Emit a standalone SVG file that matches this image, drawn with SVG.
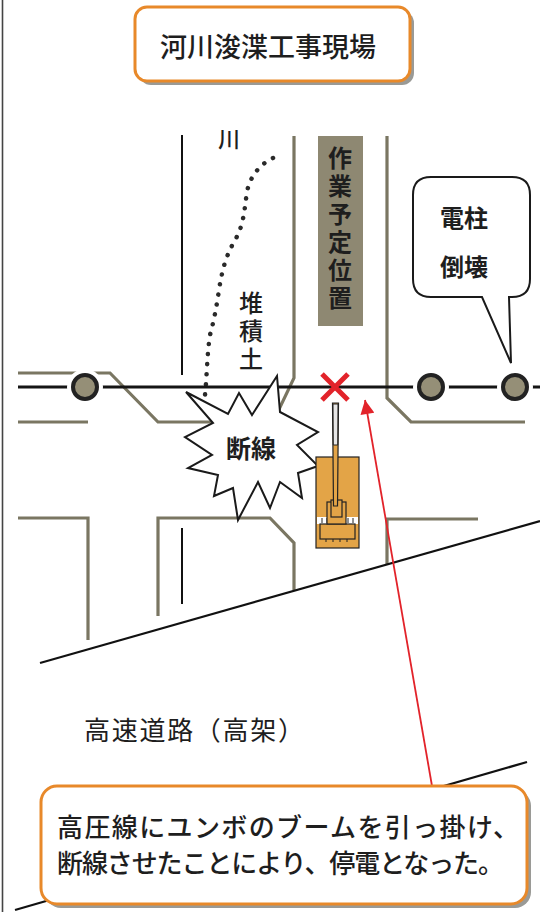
<svg xmlns="http://www.w3.org/2000/svg" width="540" height="912" viewBox="0 0 540 912">
  <style>
    .jp { font-family: "Noto Sans CJK JP", "Noto Sans", sans-serif; fill: #1e1e1e; }
    .vert { writing-mode: vertical-rl; text-orientation: upright; letter-spacing: 4px; }
    .road { fill: none; stroke: #7a7662; stroke-width: 3.2; stroke-linejoin: miter; }
    .bank { fill: none; stroke: #111; stroke-width: 2; }
    .hwy { fill: none; stroke: #111; stroke-width: 2.2; }
    .pole-halo { fill: #fff; }
    .pole { fill: #958f77; stroke: #222; stroke-width: 4; }
    .panel { fill: #fff; stroke: #e8892a; stroke-width: 3; }
    .panel-shadow { fill: #9a9a96; }
    .orange { fill: #e3a447; stroke: #222; stroke-width: 1.2; }
  </style>
  <defs>
    <marker id="arrowHead" viewBox="0 0 10 10" refX="10" refY="5" markerWidth="17" markerHeight="14" markerUnits="userSpaceOnUse" orient="auto">
      <path d="M0,0 L10,5 L0,10 Z" fill="#e2232a"/>
    </marker>
  </defs>

  <rect x="0" y="0" width="540" height="912" fill="#fff"/>
  <!-- page border -->
  <line x1="2.5" y1="0" x2="2.5" y2="912" stroke="#444" stroke-width="1.6"/>

  <!-- title -->
  <g id="title">
    <rect class="panel-shadow" x="139" y="11" width="275" height="74" rx="12"/>
    <rect class="panel" x="135" y="7" width="275" height="74" rx="12"/>
    <text class="jp" x="268" y="57" font-size="27" font-weight="500" text-anchor="middle">河川浚渫工事現場</text>
  </g>

  <!-- streets, river banks and highway -->
  <g id="map">
    <path class="bank" d="M182,135 V375 M182,528 V604"/>
    <path class="road" d="M294,136 V378 L273,422 H158 L110,373 H18"/>
    <path class="road" d="M18,422 H88"/>
    <path class="road" d="M387,136 V398 L411,422 H525"/>
    <path class="road" d="M18,518 H88 V640"/>
    <path class="road" d="M158,616 V518 H270 L294,543 V590"/>
    <path class="road" d="M478,519 H387 V564"/>
    <path class="hwy" d="M40,663 L540,521"/>
    <path class="hwy" d="M15,910 L527,762"/>
    <!-- spoil heap boundary -->
    <path d="M273,158 C262,163 250,175 247,192 C244,212 244,225 234,242 C226,256 222,270 219,290 C216,310 214,320 210,335 C207,355 207,375 205,395" fill="none" stroke="#2a2a2a" stroke-width="4.5" stroke-linecap="round" stroke-dasharray="0.1 10"/>
  </g>

  <g id="river-label">
    <text class="jp" x="229" y="147" font-size="22" font-weight="500" text-anchor="middle">川</text>
  </g>

  <g id="spoil-label">
    <text class="jp vert" x="251" y="291" font-size="24" font-weight="500">堆積土</text>
  </g>

  <g id="work-area">
    <rect x="318" y="136" width="45" height="190" fill="#8e8872"/>
    <text class="jp vert" x="340" y="146" font-size="24" font-weight="700" fill="#111">作業予定位置</text>
  </g>

  <!-- high-voltage line and poles -->
  <g id="power-line">
    <line x1="18" y1="387" x2="540" y2="387" stroke="#151515" stroke-width="3"/>
    <circle class="pole-halo" cx="85" cy="387" r="18"/>
    <circle class="pole-halo" cx="431" cy="387" r="18"/>
    <circle class="pole-halo" cx="515" cy="387" r="18"/>
  </g>
  <g id="pole-1"><circle class="pole" cx="85" cy="387" r="12"/></g>
  <g id="pole-2"><circle class="pole" cx="431" cy="387" r="12"/></g>
  <g id="pole-3"><circle class="pole" cx="515" cy="387" r="12"/></g>

  <!-- break point -->
  <g id="break-mark">
    <path d="M322,374 L348,400 M348,374 L322,400" stroke="#e2232a" stroke-width="5"/>
  </g>

  <g id="burst">
    <polygon points="186,392 228,414 239,393 252,415 277,376 280,412 318,432 297,445 318,466 298,473 302,498 280,482 270,508 258,482 238,520 233,488 214,496 218,475 188,468 212,455 185,437 213,423" fill="#fff" stroke="#1a1a1a" stroke-width="2" stroke-linejoin="miter"/>
    <text class="jp" x="251" y="458" font-size="25" font-weight="700" text-anchor="middle">断線</text>
  </g>

  <!-- excavator -->
  <g id="excavator">
    <rect class="orange" x="316" y="457" width="43" height="91"/>
    <rect x="317" y="517" width="41" height="7" fill="#fff"/>
    <path d="M322,518 v5 M327,518 v5 M348,518 v5 M353,518 v5" stroke="#222" stroke-width="1"/>
    <rect class="orange" x="320" y="524" width="35" height="15"/>
    <path d="M326,539 v3 M333,539 v3 M340,539 v3 M347,539 v3" stroke="#222" stroke-width="1"/>
    <rect class="orange" x="327" y="502" width="19" height="22"/>
    <rect class="orange" x="331" y="500" width="11" height="17"/>
    <polygon class="orange" points="332.5,403 338.5,403 337.5,506 333.5,506"/>
    <polygon points="333,404 338,404 337.7,445 333.3,445" fill="#e6e6e6" stroke="#222" stroke-width="1"/>
  </g>

  <g id="pole-bubble">
    <path d="M431,177 H512 Q530,177 530,195 V279 Q530,297 512,297 H509 L511,363 L482,297 H431 Q413,297 413,279 V195 Q413,177 431,177 Z" fill="#fff" stroke="#1a1a1a" stroke-width="2"/>
    <text class="jp" x="464" y="227" font-size="24" font-weight="700" text-anchor="middle">電柱</text>
    <text class="jp" x="464" y="276" font-size="24" font-weight="700" text-anchor="middle">倒壊</text>
  </g>

  <g id="highway-label">
    <text class="jp" x="84" y="740" font-size="26" font-weight="400" textLength="220" lengthAdjust="spacing">高速道路（高架）</text>
  </g>

  <!-- callout arrow -->
  <g id="connectors">
    <line x1="432" y1="786" x2="365" y2="400" stroke="#e2232a" stroke-width="1.8" marker-end="url(#arrowHead)"/>
  </g>

  <g id="caption">
    <rect class="panel-shadow" x="45" y="790" width="486" height="118" rx="16"/>
    <rect class="panel" x="41" y="786" width="486" height="118" rx="16"/>
    <text class="jp" x="57" y="837" font-size="26" font-weight="500" textLength="462" lengthAdjust="spacing">高圧線にユンボのブームを引っ掛け、</text>
    <text class="jp" x="57" y="873" font-size="26" font-weight="500" textLength="447" lengthAdjust="spacing">断線させたことにより、停電となった。</text>
  </g>
</svg>
